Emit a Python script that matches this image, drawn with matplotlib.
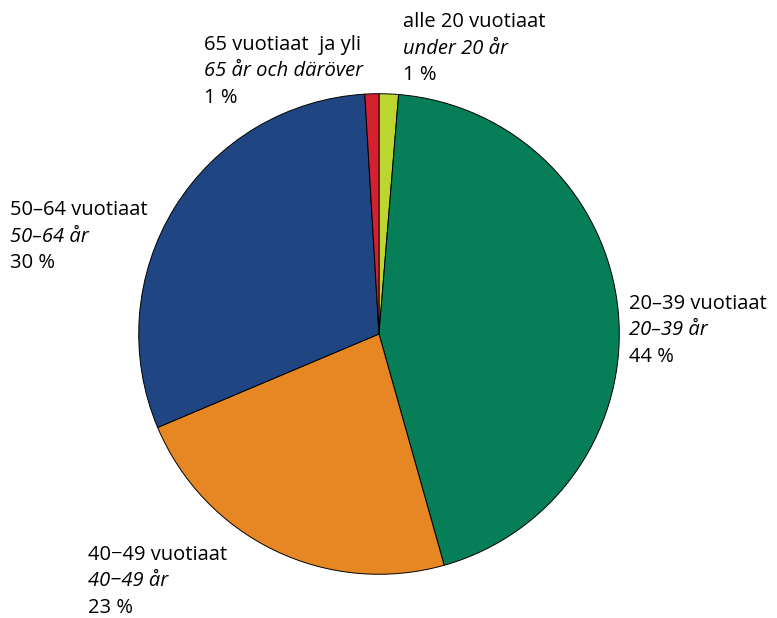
import matplotlib
matplotlib.use("Agg")
import matplotlib.pyplot as plt

plt.rcParams['font.family'] = ['Open Sans', 'DejaVu Sans']

fi_labels = ['alle 20 vuotiaat', '20\u201339 vuotiaat', '40\u221249 vuotiaat',
             '50\u201364 vuotiaat', '65 vuotiaat  ja yli']
sv_labels = ['under 20 år', '20\u201339 år', '40\u221249 år',
             '50\u201364 år', '65 år och däröver']
shares = [1.3, 44.3, 23.0, 30.4, 0.94]
colors = ['#bcd630', '#067e58', '#e78724', '#1f4582', '#d42030']

# text block positions (left x, top line centre y) in pixels
label_pos = [(403, 22), (629, 304), (88, 555), (10, 210), (204, 45)]

W, H = 777, 618
fig = plt.figure(figsize=(W / 100, H / 100), dpi=100)
cx, cy, r = 379, 334, 241
ax = fig.add_axes([(cx - r) / W, (H - cy - r) / H, 2 * r / W, 2 * r / H])
ax.pie(shares, colors=colors, startangle=90, counterclock=False,
       wedgeprops=dict(edgecolor='black', linewidth=0.7))
ax.set_xlim(-1.003, 1.003)
ax.set_ylim(-1.003, 1.003)
ax.set_aspect('equal')
ax.axis('off')

for fi, sv, v, (px, py) in zip(fi_labels, sv_labels, shares, label_pos):
    lines = [(fi, 'normal'), (sv, 'italic'), ('%d %%' % round(v), 'normal')]
    for i, (t, st) in enumerate(lines):
        fig.text(px / W, 1 - (py + i * 26.5) / H, t, fontsize=14.5, style=st,
                 ha='left', va='center')

fig.savefig('out.png', dpi=100)
